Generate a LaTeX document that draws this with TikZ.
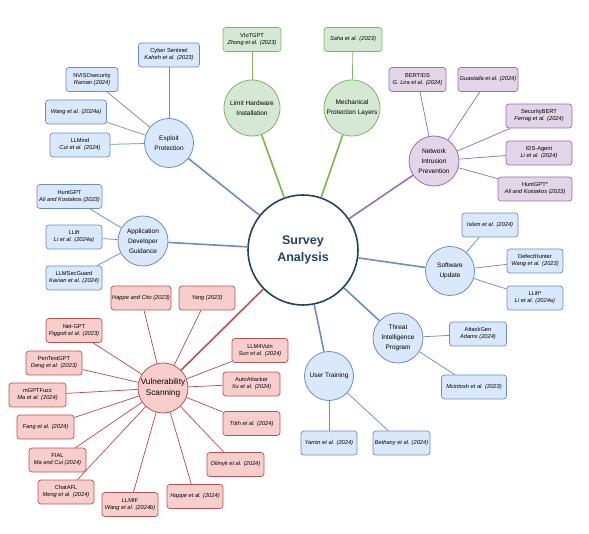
\documentclass[tikz,border=0pt]{standalone}
\usepackage{fontspec}
\setmainfont{Liberation Sans}
\definecolor{bfill}{HTML}{DAE8FC}\definecolor{bline}{HTML}{6C8EBF}
\definecolor{gfill}{HTML}{D5E8D4}\definecolor{gline}{HTML}{82B366}
\definecolor{pfill}{HTML}{E1D5E7}\definecolor{pline}{HTML}{9673A6}
\definecolor{rfill}{HTML}{F8CECC}\definecolor{rline}{HTML}{B85450}
\definecolor{dark}{HTML}{23445D}
\definecolor{gmain}{HTML}{7AB648}
\newcommand{\twoline}[2]{#1\\\textit{#2}}
\tikzset{
  catnode/.style={circle, draw=#1line, fill=#1fill, line width=0.8pt, minimum size=49pt, inner sep=0pt, align=center, font=\fontsize{6.5}{10}\selectfont},
  refbox/.style={rectangle, rounded corners=3pt, draw=#1line, fill=#1fill, line width=0.7pt, minimum height=24pt, minimum width=56pt, inner xsep=1pt, inner ysep=1pt, align=center, font=\fontsize{5.7}{7}\selectfont},
  survey/.style={circle, draw=dark, fill=white, line width=1.6pt, minimum size=110pt, inner sep=0pt, align=center, text=dark, font=\fontsize{12.5}{17}\selectfont\bfseries},
  cline/.style={draw=#1line, line width=0.75pt},
  mline/.style={draw=#1, line width=1.6pt}
}
\begin{document}
\begin{tikzpicture}[x=1pt,y=-1pt]
\useasboundingbox (0,0) rectangle (589,534);
\node[survey] (sa) at (303,250) {Survey\\Analysis};

% Exploit Protection
\node[catnode=b] (ep) at (169,143) {Exploit\\Protection};
\node[refbox=b, minimum width=61pt] (ep1) at (169,55) {\twoline{Cyber Sentinel}{Kaheh et al. (2023)}};
\node[refbox=b, minimum width=52pt] (ep2) at (92,79.5) {\twoline{NVISOsecurity}{Raman (2024)}};
\node[refbox=b, minimum width=61pt] (ep3) at (76,112) {\textit{Wang et al. (2024a)}};
\node[refbox=b, minimum width=60pt] (ep4) at (80,145) {\twoline{LLMind}{Cui et al. (2024)}};

% Limit hardware / Mechanical
\node[catnode=g, minimum size=56pt] (lh) at (252,108) {Limit Hardware\\Installation};
\node[refbox=g, minimum width=58pt] (lh1) at (252,39.5) {\twoline{VIoTGPT}{Zhong et al. (2023)}};
\node[catnode=g, minimum size=56pt] (mp) at (352,108) {Mechanical\\Protection Layers};
\node[refbox=g, minimum width=58pt] (mp1) at (353,39.5) {\textit{Saha et al. (2023)}};

% Network Intrusion Prevention
\node[catnode=p, minimum size=50pt] (ni) at (434,161) {Network\\Intrusion\\Prevention};
\node[refbox=p, minimum width=57pt] (ni1) at (417.5,79.5) {\twoline{BERTIDS}{G. Lira et al. (2024)}};
\node[refbox=p, minimum width=60pt] (ni2) at (488,79.5) {\textit{Guastalla et al. (2024)}};
\node[refbox=p, minimum width=66pt] (ni3) at (539,116) {\twoline{SecurityBERT}{Ferrag et al. (2024)}};
\node[refbox=p, minimum width=66pt] (ni4) at (539,153) {\twoline{IDS-Agent}{Li et al. (2024)}};
\node[refbox=p, minimum width=74pt] (ni5) at (535,189) {\twoline{HuntGPT*}{Ali and Kostakos (2023)}};

% Application Developer Guidance
\node[catnode=b, minimum size=50pt] (ad) at (143,241) {Application\\Developer\\Guidance};
\node[refbox=b, minimum width=65pt] (ad1) at (69.5,196.5) {\twoline{HuntGPT}{Ali and Kostakos (2023)}};
\node[refbox=b] (ad2) at (74,237) {\twoline{LLift}{Li et al. (2024a)}};
\node[refbox=b] (ad3) at (74,278) {\twoline{LLMSecGuard}{Kavian et al. (2024)}};

% Software Update
\node[catnode=b] (su) at (450,271) {Software\\Update};
\node[refbox=b] (su1) at (490,225) {\textit{Islam et al. (2024)}};
\node[refbox=b] (su2) at (535,261) {\twoline{DefectHunter}{Wang et al. (2023)}};
\node[refbox=b] (su3) at (535,298) {\twoline{LLift*}{Li et al. (2024a)}};

% Threat Intelligence Program
\node[catnode=b, minimum size=50pt] (ti) at (398,338) {Threat\\Intelligence\\Program};
\node[refbox=b, minimum width=57pt] (ti1) at (478,334) {\twoline{AttackGen}{Adams (2024)}};
\node[refbox=b, minimum width=65pt] (ti2) at (474,387) {\textit{Mcintosh et al. (2023)}};

% User Training
\node[catnode=b] (ut) at (329,376) {User Training};
\node[refbox=b] (ut1) at (329,443) {\textit{Yamin et al. (2024)}};
\node[refbox=b, minimum width=57pt] (ut2) at (401.5,443) {\textit{Bethany et al. (2024)}};

% Vulnerability Scanning
\node[catnode=r, minimum size=50pt, font=\fontsize{8.2}{10.5}\selectfont] (vs) at (163,388) {Vulnerability\\Scanning};
\node[refbox=r, minimum width=60pt] (vs1) at (141,298) {\textit{Happe and Cito (2023)}};
\node[refbox=r] (vs2) at (207,298) {\textit{Yang (2023)}};
\node[refbox=r] (vs3) at (74,330.5) {\twoline{Net-GPT}{Piggott et al. (2023)}};
\node[refbox=r] (vs4) at (54,363) {\twoline{PenTestGPT}{Deng et al. (2023)}};
\node[refbox=r, minimum width=57pt] (vs5) at (37.5,395) {\twoline{mGPTFuzz}{Ma et al. (2024)}};
\node[refbox=r, minimum width=57pt] (vs6) at (45.5,427) {\textit{Fang et al. (2024)}};
\node[refbox=r, minimum width=57pt] (vs7) at (57.5,460) {\twoline{FIAL}{Ma and Cui (2024)}};
\node[refbox=r] (vs8) at (66,492) {\twoline{ChatAFL}{Meng et al. (2024)}};
\node[refbox=r] (vs9) at (130,504.5) {\twoline{LLMIF}{Wang et al. (2024b)}};
\node[refbox=r] (vs10) at (195,496.5) {\textit{Happe et al. (2024)}};
\node[refbox=r, minimum width=57pt] (vs11) at (235.5,464.5) {\textit{Oliinyk et al. (2024)}};
\node[refbox=r, minimum width=57pt] (vs12) at (251.5,423.5) {\textit{Tóth et al. (2024)}};
\node[refbox=r, minimum width=57pt] (vs13) at (251.5,384) {\twoline{AutoAttacker}{Xu et al. (2024)}};
\node[refbox=r] (vs14) at (260,350.5) {\twoline{LLM4Vuln}{Sun et al. (2024)}};

% child connectors
\foreach \c in {ep1,ep2,ep3,ep4} \draw[cline=b] (ep) -- (\c);
\draw[cline=g] (lh) -- (lh1);
\draw[cline=g] (mp) -- (mp1);
\foreach \c in {ni1,ni2,ni3,ni4,ni5} \draw[cline=p] (ni) -- (\c);
\foreach \c in {ad1,ad2,ad3} \draw[cline=b] (ad) -- (\c);
\foreach \c in {su1,su2,su3} \draw[cline=b] (su) -- (\c);
\foreach \c in {ti1,ti2} \draw[cline=b] (ti) -- (\c);
\foreach \c in {ut1,ut2} \draw[cline=b] (ut) -- (\c);
\foreach \c in {vs1,vs2,vs3,vs4,vs5,vs6,vs7,vs8,vs9,vs10,vs11,vs12,vs13,vs14} \draw[cline=r] (vs) -- (\c);

% main connectors
\draw[mline=bline] (sa) -- (ep);
\draw[mline=gmain] (sa) -- (lh);
\draw[mline=gmain] (sa) -- (mp);
\draw[mline=pline] (sa) -- (ni);
\draw[mline=bline] (sa) -- (ad);
\draw[mline=bline] (sa) -- (su);
\draw[mline=bline] (sa) -- (ti);
\draw[mline=bline] (sa) -- (ut);
\draw[mline=rline] (sa) -- (vs);
\end{tikzpicture}
\end{document}
